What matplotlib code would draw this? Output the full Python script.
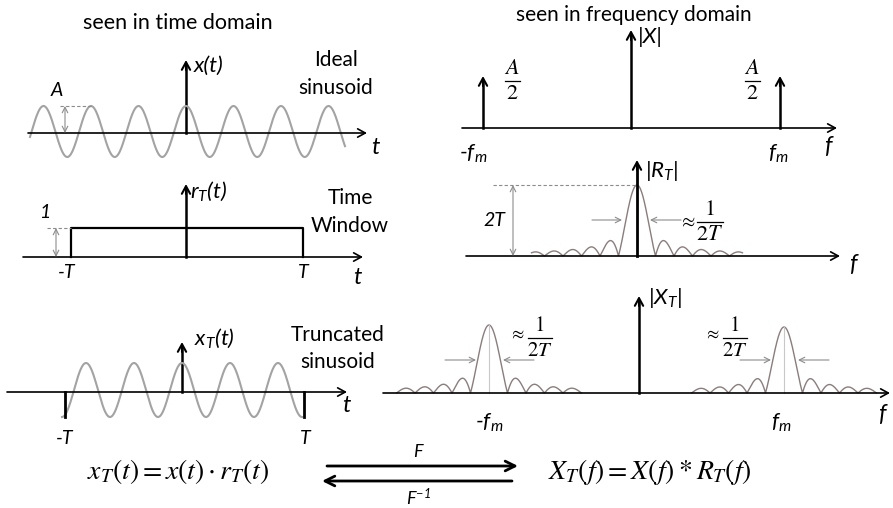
import numpy as np
import matplotlib.pyplot as plt

plt.rcParams['font.family'] = ['Lato', 'DejaVu Sans']
plt.rcParams['mathtext.fontset'] = 'custom'
plt.rcParams['mathtext.rm'] = 'STIXGeneral'
plt.rcParams['mathtext.it'] = 'STIXGeneral:italic'
plt.rcParams['mathtext.sf'] = 'Lato:italic'

# diagram values (pixel units of the picture)
sine_period = 47.5          # period of the sinusoid
sine_amp = [25.5, 27]       # amplitude: ideal, truncated
win_half = 120              # T (half window width)
win_height = 29             # window height "1"
sinc_zero = 18.5            # first zero of |R_T|
sinc_height = [71, 68, 66]  # R_T peak, X_T peak at -fm, X_T peak at +fm
fm_px = [-150, 145]         # -fm, fm in bottom right panel
lobes = [5.7, 5.0]          # number of side lobes drawn per side

SINE = '#a3a3a3'
SINC = '#8a7d7d'
GREY = '#8c8c8c'

fig = plt.figure(figsize=(8.93, 5.08), dpi=100)
ax = fig.add_axes([0, 0, 1, 1])
ax.set_xlim(0, 893)
ax.set_ylim(508, 0)
ax.axis('off')


def arrow(x0, y0, x1, y1, lw=1.2, color='black', style='->', hl=0.55, hw=0.3):
    ax.annotate('', xy=(x1, y1), xytext=(x0, y0),
                arrowprops=dict(arrowstyle=f'{style},head_length={hl},head_width={hw}',
                                lw=lw, color=color, shrinkA=0, shrinkB=0))


def label(x, y, s, size=15, **kw):
    ax.text(x, y, s, fontsize=size, va='center', **kw)


def frac(x, y, num, den, size=16, w=16, gap=11):
    # hand-built fraction: numerator, bar, denominator
    ax.text(x, y - 2, num, fontsize=size, family='STIXGeneral', ha='center', va='bottom')
    ax.plot([x - w / 2, x + w / 2], [y, y], color='black', lw=0.9)
    ax.text(x, y + 3, den, fontsize=size, family='STIXGeneral', ha='center', va='top')


def sinc_curve(x0, base, h, nlob_left, nlob_right):
    x = np.linspace(x0 - nlob_left * sinc_zero, x0 + nlob_right * sinc_zero, 800)
    y = base - h * np.abs(np.sinc((x - x0) / sinc_zero))
    ax.plot(x, y, color=SINC, lw=1.0)


# titles
label(178, 23, 'seen in time domain', size=15.5, ha='center')
label(634, 15, 'seen in frequency domain', size=15, ha='center')

# ---- x(t)
y0 = 133
arrow(28, y0, 367, y0)
ax.plot([186, 186], [y0, 66], color='black', lw=1.8)
arrow(186, 70, 186, 60, lw=1.5)
x = np.linspace(30, 345, 600)
ax.plot(x, y0 - 1.5 - sine_amp[0] * np.cos(2 * np.pi * (x - 186) / sine_period), color=SINE, lw=1.5)
ax.plot([60, 92], [106, 106], color=GREY, lw=0.8, ls=(0, (3, 2)))
arrow(65, y0, 65, 106, lw=0.8, color=GREY, style='<->', hl=0.4, hw=0.2)
label(57, 91, 'A', size=14, style='italic', ha='center')
label(194, 66, 'x(t)', size=16, style='italic')
label(375, 148, 't', size=17, style='italic', ha='center')
label(336, 60, 'Ideal', ha='center')
label(336, 88, 'sinusoid', ha='center')

# ---- r_T(t)
y0 = 257
arrow(23, y0, 363, y0)
ax.plot([186, 186], [y0, 190], color='black', lw=1.8)
arrow(186, 194, 186, 184, lw=1.5)
ax.plot([186 - win_half + 5, 186 - win_half + 5, 186 + win_half - 3, 186 + win_half - 3],
        [y0, y0 - win_height, y0 - win_height, y0], color='black', lw=1.6)
ax.plot([47, 71], [y0 - win_height] * 2, color=GREY, lw=0.8, ls=(0, (3, 2)))
arrow(56, y0, 56, y0 - win_height, lw=0.8, color=GREY, style='<->', hl=0.4, hw=0.2)
label(45, 213, '1', size=14, style='italic', ha='center')
label(67, 273, '-T', size=14, style='italic', ha='center')
label(303, 273, 'T', size=14, style='italic', ha='center')
label(357, 278, 't', size=17, style='italic', ha='center')
label(190, 191, r'$\mathsf{r_T(t)}$', size=16)
label(350, 198, 'Time', ha='center')
label(350, 226, 'Window', ha='center')

# ---- x_T(t)
y0 = 392
arrow(7, y0, 347, y0)
ax.plot([182, 182], [y0, 348], color='black', lw=1.8)
arrow(182, 352, 182, 342, lw=1.5)
x = np.linspace(182 - win_half, 182 + win_half, 600)
ax.plot(x, y0 - 2 - sine_amp[1] * np.cos(2 * np.pi * (x - 182) / 48), color=SINE, lw=1.5)
ax.plot([65, 65], [y0, 417], color='black', lw=2)
ax.plot([304, 304], [y0, 417], color='black', lw=2)
label(65, 438, '-T', size=14, style='italic', ha='center')
label(305, 438, 'T', size=14, style='italic', ha='center')
label(346, 406, 't', size=17, style='italic', ha='center')
label(194, 338, r'$\mathsf{x_T(t)}$', size=16)
label(338, 335, 'Truncated', ha='center')
label(338, 362, 'sinusoid', ha='center')

# ---- |X|
y0 = 128
arrow(462, y0, 837, y0)
ax.plot([631, 631], [y0, 36], color='black', lw=1.8)
arrow(631, 40, 631, 30, lw=1.5)
for xs in [483, 780]:
    ax.plot([xs, xs], [y0, 82], color='black', lw=1.8)
    arrow(xs, 86, xs, 76, lw=1.5)
label(638, 37, '|X|', size=16, style='italic')
frac(512, 81, '$A$', '2', size=16, w=15)
frac(752, 81, '$A$', '2', size=16, w=15)
label(473, 154, r'-$\mathsf{f_m}$', size=16, style='italic', ha='center')
label(778, 154, r'$\mathsf{f_m}$', size=16, ha='center')
label(828, 147, 'f', size=17, style='italic', ha='center')

# ---- |R_T|
y0 = 256
arrow(466, y0, 840, y0)
sinc_curve(637, y0, sinc_height[0], lobes[0], lobes[0])
ax.plot([637, 637], [y0, 166], color='black', lw=2)
arrow(637, 170, 637, 160, lw=1.5)
ax.plot([493, 636], [185, 185], color=GREY, lw=0.8, ls=(0, (3, 2)))
arrow(513, y0, 513, 185, lw=0.8, color=GREY, style='<->', hl=0.4, hw=0.2)
label(494, 221, '2T', size=14, style='italic', ha='center')
arrow(592, 220, 622, 220, lw=0.8, color=GREY, hl=0.4, hw=0.2)
arrow(681, 220, 650, 220, lw=0.8, color=GREY, hl=0.4, hw=0.2)
label(679, 221, r'$\approx$', size=14)
frac(710, 222, '1', '$2T$', size=16, w=26)
label(645, 171, r'$\mathsf{|R_T|}$', size=16)
label(853, 264, 'f', size=17, style='italic', ha='center')

# ---- |X_T|
y0 = 393
arrow(383, y0, 890, y0)
for fp, h in zip(fm_px, sinc_height[1:]):
    xc = 639 + fp
    sinc_curve(xc, y0, h, lobes[1], lobes[1])
    ax.plot([xc, xc], [y0, y0 - h], color='#c8c8c8', lw=0.8)
ax.plot([639, 639], [y0, 302], color='black', lw=1.8)
arrow(639, 306, 639, 296, lw=1.5)
label(648, 298, r'$\mathsf{|X_T|}$', size=16)
for xc in [489, 784]:
    arrow(xc - 44, 360, xc - 13, 360, lw=0.8, color=GREY, hl=0.4, hw=0.2)
    arrow(xc + 45, 360, xc + 14, 360, lw=0.8, color=GREY, hl=0.4, hw=0.2)
label(509, 334, r'$\approx$', size=13)
frac(540, 338, '1', '$2T$', size=15, w=24)
label(704, 334, r'$\approx$', size=13)
frac(735, 338, '1', '$2T$', size=15, w=24)
label(489, 423, r'-$\mathsf{f_m}$', size=16, style='italic', ha='center')
label(781, 423, r'$\mathsf{f_m}$', size=16, ha='center')
label(882, 414, 'f', size=17, style='italic', ha='center')

# ---- formulas and transform arrows
label(178, 472, r'$x_T(t) = x(t) \cdot r_T(t)$', size=20, ha='center')
label(650, 472, r'$X_T(f) = X(f) * R_T(f)$', size=20, ha='center')
arrow(327, 466, 518, 466, lw=2, hl=0.7, hw=0.35)
arrow(512, 481, 322, 481, lw=2, hl=0.7, hw=0.35)
label(418, 452, 'F', size=13, style='italic', ha='center')
label(418, 497, r'$\mathsf{F^{-1}}$', size=13, ha='center')

fig.savefig('out.png', dpi=100)
